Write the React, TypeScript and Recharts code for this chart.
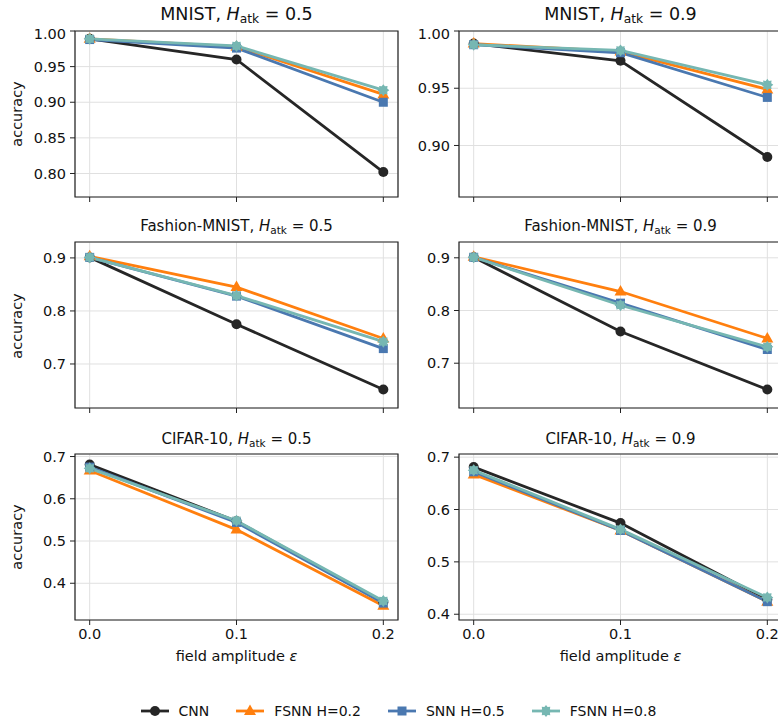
import React from 'react'
import { LineChart, Line, XAxis, YAxis, CartesianGrid, ReferenceArea } from 'recharts'

const eps = [0, 0.1, 0.2]
const seriesNames = ['CNN', 'FSNN H=0.2', 'SNN H=0.5', 'FSNN H=0.8']

// accuracy per panel: [CNN, FSNN H=0.2, SNN H=0.5, FSNN H=0.8]
const mnist05 = [
  [0.989, 0.96, 0.802],
  [0.989, 0.978, 0.911],
  [0.988, 0.976, 0.9],
  [0.989, 0.979, 0.917],
]
const mnist09 = [
  [0.989, 0.974, 0.89],
  [0.989, 0.982, 0.949],
  [0.988, 0.981, 0.942],
  [0.988, 0.983, 0.953],
]
const fashion05 = [
  [0.901, 0.775, 0.652],
  [0.903, 0.845, 0.748],
  [0.901, 0.828, 0.729],
  [0.901, 0.829, 0.742],
]
const fashion09 = [
  [0.901, 0.76, 0.65],
  [0.902, 0.836, 0.747],
  [0.901, 0.814, 0.726],
  [0.901, 0.81, 0.731],
]
const cifar05 = [
  [0.681, 0.547, 0.355],
  [0.667, 0.527, 0.347],
  [0.675, 0.544, 0.353],
  [0.672, 0.548, 0.358],
]
const cifar09 = [
  [0.681, 0.574, 0.428],
  [0.667, 0.56, 0.424],
  [0.672, 0.56, 0.424],
  [0.675, 0.562, 0.432],
]

const mnistTicks05 = [0.8, 0.85, 0.9, 0.95, 1.0]
const mnistTicks09 = [0.9, 0.95, 1.0]
const fashionTicks = [0.7, 0.8, 0.9]
const cifarTicks05 = [0.4, 0.5, 0.6, 0.7]
const cifarTicks09 = [0.4, 0.5, 0.6, 0.7]
const xTicks = [0, 0.1, 0.2]

const colors = ['#262626', '#ff7f0e', '#4a78b0', '#76b7b2']
const font = '"DejaVu Sans", sans-serif'

function marker(i: number, cx: number, cy: number, key?: any) {
  const c = colors[i]
  if (i === 0) return <circle key={key} cx={cx} cy={cy} r={5} fill={c} />
  if (i === 1)
    return <polygon key={key} points={`${cx},${cy - 6.5} ${cx - 6},${cy + 4} ${cx + 6},${cy + 4}`} fill={c} />
  if (i === 2) return <rect key={key} x={cx - 4.5} y={cy - 4.5} width={9} height={9} fill={c} />
  const pts: string[] = []
  for (let k = 0; k < 16; k++) {
    const a = (Math.PI * k) / 8
    const r = k % 2 === 0 ? 6 : 4.2
    pts.push(`${cx + r * Math.sin(a)},${cy - r * Math.cos(a)}`)
  }
  return <polygon key={key} points={pts.join(' ')} fill={c} />
}

function toRows(vals: number[][]) {
  return eps.map((e, j) => ({ eps: e, s0: vals[0][j], s1: vals[1][j], s2: vals[2][j], s3: vals[3][j] }))
}

const PW = 323
const PH = 166

function Panel({ left, top, vals, domain, ticks, digits, xLabels }: any) {
  const data = toRows(vals)
  return (
    <div style={{ position: 'absolute', left: left - 60, top: top - 6 }}>
      <LineChart width={PW + 66} height={PH + 46} data={data} margin={{ top: 6, right: 6, bottom: 0, left: 0 }}>
        <CartesianGrid stroke="#e0e0e0" strokeWidth={1} />
        <XAxis
          dataKey="eps"
          type="number"
          domain={[-0.01, 0.21]}
          ticks={xTicks}
          allowDataOverflow
          height={40}
          axisLine={false}
          tickSize={5}
          tickMargin={4}
          tickLine={{ stroke: '#222' }}
          tick={{ fill: '#111', fontSize: 14.5, fontFamily: font }}
          tickFormatter={(v: number) => (xLabels ? v.toFixed(1) : '')}
        />
        <YAxis
          type="number"
          domain={domain}
          ticks={ticks}
          allowDataOverflow
          width={60}
          axisLine={false}
          tickSize={5}
          tickMargin={4}
          tickLine={{ stroke: '#222' }}
          tick={{ fill: '#111', fontSize: 14.5, fontFamily: font }}
          tickFormatter={(v: number) => v.toFixed(digits)}
        />
        <ReferenceArea
          x1={-0.01}
          x2={0.21}
          y1={domain[0]}
          y2={domain[1]}
          fill="none"
          stroke="#222"
          strokeWidth={1.2}
          ifOverflow="visible"
        />
        {[0, 1, 2, 3].map((i) => (
          <Line
            key={i}
            dataKey={`s${i}`}
            stroke={colors[i]}
            strokeWidth={2.8}
            isAnimationActive={false}
            dot={(p: any) => marker(i, p.cx, p.cy, p.index)}
            activeDot={false}
          />
        ))}
      </LineChart>
    </div>
  )
}

function Title({ left, top, name, h, size }: any) {
  return (
    <div
      style={{
        position: 'absolute',
        left,
        top,
        width: PW,
        textAlign: 'center',
        fontFamily: font,
        fontSize: size,
        color: '#111',
        whiteSpace: 'nowrap',
      }}
    >
      {name}, <i>H</i>
      <span style={{ fontSize: '0.7em', position: 'relative', top: '0.28em' }}>atk</span> = {h}
    </div>
  )
}

function YLabel({ cy }: any) {
  return (
    <div
      style={{
        position: 'absolute',
        left: 17 - 50,
        top: cy - 10,
        width: 100,
        height: 20,
        lineHeight: '20px',
        textAlign: 'center',
        transform: 'rotate(-90deg)',
        fontFamily: font,
        fontSize: 14.5,
        color: '#111',
      }}
    >
      accuracy
    </div>
  )
}

function XLabel({ left }: any) {
  return (
    <div
      style={{
        position: 'absolute',
        left,
        top: 648,
        width: PW,
        textAlign: 'center',
        fontFamily: font,
        fontSize: 14.5,
        color: '#111',
      }}
    >
      field amplitude <i>ε</i>
    </div>
  )
}

function Legend() {
  return (
    <div
      style={{
        position: 'absolute',
        left: 0,
        top: 701,
        width: 796,
        display: 'flex',
        justifyContent: 'center',
        gap: 26,
        fontFamily: font,
        fontSize: 14,
        color: '#111',
      }}
    >
      {seriesNames.map((n, i) => (
        <div key={n} style={{ display: 'flex', alignItems: 'center', gap: 9 }}>
          <svg width={30} height={20}>
            <line x1={1} y1={10} x2={29} y2={10} stroke={colors[i]} strokeWidth={2.8} />
            {marker(i, 15, 10)}
          </svg>
          <span>{n}</span>
        </div>
      ))}
    </div>
  )
}

export default function App() {
  const L = 75
  const R = 459
  return (
    <div
      style={{
        position: 'absolute',
        left: 0,
        top: 0,
        width: 778,
        height: 721,
        overflow: 'hidden',
        background: '#fff',
      }}
    >
      <Panel left={L} top={31} vals={mnist05} domain={[0.767, 1.0]} ticks={mnistTicks05} digits={2} />
      <Panel left={R} top={31} vals={mnist09} domain={[0.855, 1.0]} ticks={mnistTicks09} digits={2} />
      <Panel left={L} top={242} vals={fashion05} domain={[0.617, 0.93]} ticks={fashionTicks} digits={1} />
      <Panel left={R} top={242} vals={fashion09} domain={[0.615, 0.93]} ticks={fashionTicks} digits={1} />
      <Panel left={L} top={454} vals={cifar05} domain={[0.313, 0.706]} ticks={cifarTicks05} digits={1} xLabels />
      <Panel left={R} top={454} vals={cifar09} domain={[0.389, 0.706]} ticks={cifarTicks09} digits={1} xLabels />

      <Title left={L} top={4} name="MNIST" h="0.5" size={17.5} />
      <Title left={R} top={4} name="MNIST" h="0.9" size={17.5} />
      <Title left={L} top={217} name="Fashion-MNIST" h="0.5" size={15} />
      <Title left={R} top={217} name="Fashion-MNIST" h="0.9" size={15} />
      <Title left={L} top={430} name="CIFAR-10" h="0.5" size={15} />
      <Title left={R} top={430} name="CIFAR-10" h="0.9" size={15} />

      <YLabel cy={114} />
      <YLabel cy={326} />
      <YLabel cy={537} />

      <XLabel left={L} />
      <XLabel left={R} />

      <Legend />
    </div>
  )
}
